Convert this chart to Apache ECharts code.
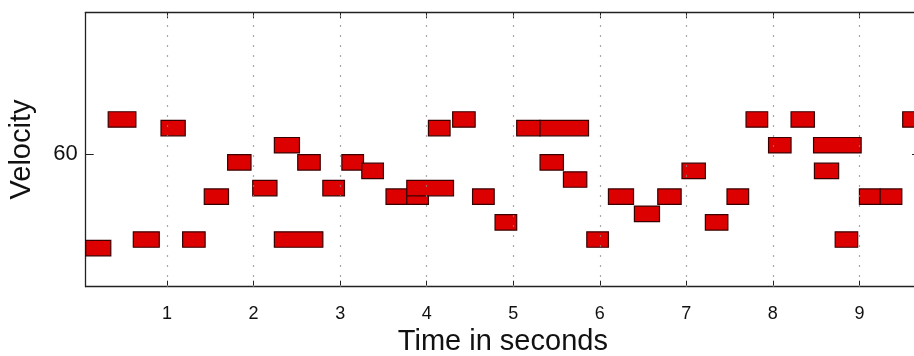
<!DOCTYPE html>
<html>
<head>
<meta charset="utf-8">
<script src="https://cdn.jsdelivr.net/npm/echarts@6/dist/echarts.min.js"></script>
<style>
html,body{margin:0;padding:0;background:#fff;}
#chart{width:914px;height:356px;}
</style>
</head>
<body>
<div id="chart"></div>
<script>
// Note onsets (s), offsets (s) and velocities
const noteStart = [0.06, 0.32, 0.61, 0.93, 1.18, 1.43, 1.70, 1.99, 2.24, 2.24, 2.51, 2.80, 3.02, 3.25, 3.53, 3.77, 3.77, 4.02, 4.30, 4.53, 4.79, 5.04, 5.31, 5.31, 5.58, 5.85, 6.10, 6.40, 6.67, 6.95, 7.22, 7.47, 7.69, 7.95, 8.21, 8.47, 8.48, 8.72, 9.00, 9.24, 9.50];
const noteEnd   = [0.35, 0.64, 0.91, 1.21, 1.44, 1.71, 1.97, 2.27, 2.53, 2.80, 2.77, 3.05, 3.27, 3.50, 3.77, 4.02, 4.31, 4.27, 4.56, 4.78, 5.04, 5.31, 5.87, 5.58, 5.85, 6.10, 6.39, 6.69, 6.94, 7.22, 7.48, 7.72, 7.94, 8.21, 8.48, 9.02, 8.76, 8.98, 9.24, 9.49, 9.80];
const noteVel   = [49, 64, 50, 63, 50, 55, 59, 56, 61, 50, 59, 56, 59, 58, 55, 55, 56, 63, 64, 55, 52, 63, 63, 59, 57, 50, 55, 53, 55, 58, 52, 55, 64, 61, 64, 61, 58, 50, 55, 55, 64];
const xTicks = [1, 2, 3, 4, 5, 6, 7, 8, 9];
const yTicks = [60];

const notes = noteStart.map((s, i) => [s, noteEnd[i], noteVel[i]]);
const HALF = 0.9;

const chart = echarts.init(document.getElementById('chart'), null, {renderer: 'canvas'});
const axisLineStyle = {color: '#222', width: 1.3};
const font = 'Liberation Sans, Arial, Helvetica, sans-serif';

const option = {
  animation: false,
  backgroundColor: '#fff',
  grid: {left: 85.7, top: 12.3, width: 834.3, height: 274.4, containLabel: false, outerBoundsMode: 'none'},
  xAxis: [{
    type: 'value', min: 0.06, max: 9.7, position: 'bottom',
    name: 'Time in seconds', nameLocation: 'middle', nameGap: 41,
    nameTextStyle: {fontSize: 29, color: '#111', fontFamily: font},
    axisLine: {show: true, onZero: false, lineStyle: axisLineStyle},
    axisTick: {show: true, inside: true, length: 6, customValues: xTicks, lineStyle: {color: '#222'}},
    axisLabel: {show: true, customValues: xTicks, fontSize: 18, color: '#111', margin: 18, fontFamily: font},
    splitLine: {show: false}
  }, {
    type: 'value', min: 0.06, max: 9.7, position: 'top',
    axisLine: {show: true, onZero: false, lineStyle: axisLineStyle},
    axisTick: {show: true, inside: true, length: 6, customValues: xTicks, lineStyle: {color: '#222'}},
    axisLabel: {show: false},
    splitLine: {show: false}
  }],
  yAxis: [{
    type: 'value', min: 44.5, max: 76.5, position: 'left',
    name: 'Velocity', nameLocation: 'middle', nameGap: 49, nameRotate: 90,
    nameTextStyle: {fontSize: 29, color: '#111', fontFamily: font},
    axisLine: {show: true, onZero: false, lineStyle: axisLineStyle},
    axisTick: {show: true, inside: true, length: 8, customValues: yTicks, lineStyle: {color: '#222'}},
    axisLabel: {show: true, customValues: yTicks, fontSize: 22, color: '#111', margin: 8, fontFamily: font},
    splitLine: {show: false}
  }, {
    type: 'value', min: 44.5, max: 76.5, position: 'right',
    axisLine: {show: true, onZero: false, lineStyle: axisLineStyle},
    axisTick: {show: true, inside: true, length: 8, customValues: yTicks, lineStyle: {color: '#222'}},
    axisLabel: {show: false},
    splitLine: {show: false}
  }],
  series: [{
    type: 'line', data: [], xAxisIndex: 0, yAxisIndex: 0, silent: true,
    markLine: {
      silent: true, symbol: ['none', 'none'], animation: false,
      label: {show: false},
      lineStyle: {color: '#8a8a8a', type: [1.5, 8.5], width: 1.2},
      data: xTicks.map(v => ({xAxis: v}))
    }
  }, {
    type: 'custom', xAxisIndex: 0, yAxisIndex: 0, data: notes,
    encode: {x: [0, 1], y: 2},
    renderItem: function (params, api) {
      const p0 = api.coord([api.value(0), api.value(2) + HALF]);
      const p1 = api.coord([api.value(1), api.value(2) - HALF]);
      const rect = echarts.graphic.clipRectByRect(
        {x: p0[0], y: p0[1], width: p1[0] - p0[0], height: p1[1] - p0[1]},
        {x: params.coordSys.x, y: params.coordSys.y, width: params.coordSys.width, height: params.coordSys.height}
      );
      if (!rect) return null;
      return {
        type: 'rect', shape: rect,
        style: {fill: '#dc0000', stroke: '#3a0000', lineWidth: 1.2}
      };
    }
  }]
};
chart.setOption(option);
</script>
</body>
</html>
